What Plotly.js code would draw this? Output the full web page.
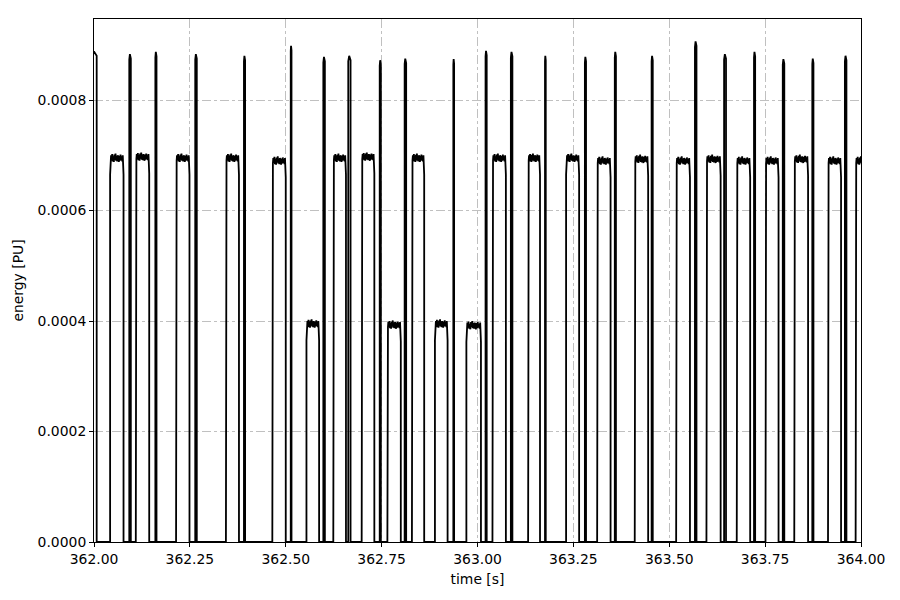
<!DOCTYPE html>
<html>
<head>
<meta charset="utf-8">
<script src="https://cdn.plot.ly/plotly-3.0.1.min.js"></script>
<style>html,body{margin:0;padding:0;background:#fff}#chart{width:900px;height:600px}</style>
</head>
<body>
<div id="chart"></div>
<script>
// Narrow tall spikes: start time [s], end time [s], peak energy [PU]
const spikeStart = [361.995, 362.092, 362.160, 362.264, 362.391, 362.513, 362.598, 362.663, 362.745, 362.810, 362.937, 363.021, 363.087, 363.176, 363.280, 363.358, 363.454, 363.567, 363.643, 363.721, 363.796, 363.873, 363.958];
const spikeEnd   = [362.007, 362.096, 362.163, 362.268, 362.394, 362.515, 362.602, 362.669, 362.748, 362.814, 362.939, 363.024, 363.091, 363.178, 363.283, 363.361, 363.457, 363.571, 363.648, 363.724, 363.800, 363.876, 363.962];
const spikePeak  = [0.000888, 0.000883, 0.000887, 0.000883, 0.000880, 0.000898, 0.000878, 0.000880, 0.000872, 0.000875, 0.000874, 0.000889, 0.000887, 0.000880, 0.000878, 0.000887, 0.000880, 0.000906, 0.000883, 0.000887, 0.000874, 0.000875, 0.000880];

// Wide plateau pulses: start time [s], end time [s], plateau energy [PU]
const pulseStart = [362.042, 362.109, 362.214, 362.344, 362.465, 362.554, 362.624, 362.698, 362.765, 362.829, 362.889, 362.971, 363.039, 363.132, 363.231, 363.312, 363.410, 363.518, 363.597, 363.676, 363.751, 363.826, 363.914, 363.986];
const pulseEnd   = [362.077, 362.144, 362.249, 362.378, 362.500, 362.587, 362.657, 362.731, 362.800, 362.861, 362.922, 363.009, 363.074, 363.163, 363.265, 363.347, 363.445, 363.554, 363.634, 363.711, 363.785, 363.862, 363.948, 364.020];
const pulseLevel = [0.000695, 0.000697, 0.000695, 0.000695, 0.000690, 0.000395, 0.000695, 0.000697, 0.000393, 0.000695, 0.000395, 0.000392, 0.000695, 0.000695, 0.000695, 0.000690, 0.000693, 0.000690, 0.000693, 0.000690, 0.000690, 0.000693, 0.000690, 0.000690];

// Ripple on plateau tops (PU x 1e-6)
const plateauNoise = [5, -4, 7, -6, 3, -7, 6, -3, 8, -5, 4, -6, 5, -2, -7, 4, -5, 6, -4, 3, -6, 5];

// Axis ticks
const xTicks = [362.00, 362.25, 362.50, 362.75, 363.00, 363.25, 363.50, 363.75, 364.00];
const yTicks = [0, 0.0002, 0.0004, 0.0006, 0.0008];

// Build the signal trace from the pulse tables
const events = [];
spikeStart.forEach((s, i) => events.push({kind: 's', t0: s, t1: spikeEnd[i], v: spikePeak[i]}));
pulseStart.forEach((s, i) => events.push({kind: 'p', t0: s, t1: pulseEnd[i], v: pulseLevel[i]}));
events.sort((a, b) => a.t0 - b.t0);

const xs = [], ys = [];
events.forEach(e => {
  const w = e.t1 - e.t0;
  if (e.kind === 's') {
    xs.push(e.t0, e.t0, e.t0 + w * 0.4, e.t1, e.t1);
    ys.push(0, e.v - 0.00001, e.v, e.v - 0.000008, 0);
  } else {
    xs.push(e.t0, e.t0, e.t0 + 0.0015);
    ys.push(0, e.v - 0.00003, e.v - 0.000004);
    const n = plateauNoise.length;
    const a = e.t0 + 0.0025, b = e.t1 - 0.002;
    for (let k = 0; k < n; k++) {
      xs.push(a + (b - a) * k / (n - 1));
      ys.push(e.v + plateauNoise[k] * 1e-6);
    }
    xs.push(e.t1 - 0.0008, e.t1, e.t1);
    ys.push(e.v - 0.00001, e.v - 0.00003, 0);
  }
});

const trace = {
  x: xs, y: ys, type: 'scatter', mode: 'lines',
  line: {color: '#000000', width: 1.8},
  hoverinfo: 'skip', showlegend: false
};

const mkFont = () => ({family: 'DejaVu Sans, sans-serif', size: 13.9, color: '#000000'});
const layout = {
  width: 900, height: 600,
  margin: {l: 94, r: 39, t: 19, b: 58, pad: 0},
  paper_bgcolor: '#fff', plot_bgcolor: '#fff',
  font: mkFont(),
  showlegend: false,
  xaxis: {
    range: [362, 364], tickvals: xTicks, tickformat: '.2f',
    showline: true, mirror: true, linecolor: '#000', linewidth: 1,
    ticks: 'outside', ticklen: 4, tickwidth: 1, tickcolor: '#000',
    showgrid: true, gridcolor: '#b0b0b0', gridwidth: 0.8, griddash: 'dashdot',
    zeroline: false, tickfont: mkFont(),
    title: {text: 'time [s]', font: mkFont(), standoff: 8}
  },
  yaxis: {
    range: [0, 0.0009466], tickvals: yTicks, tickformat: '.4f',
    showline: true, mirror: true, linecolor: '#000', linewidth: 1,
    ticks: 'outside', ticklen: 4, tickwidth: 1, tickcolor: '#000',
    showgrid: true, gridcolor: '#b0b0b0', gridwidth: 0.8, griddash: 'dashdot',
    zeroline: false, tickfont: mkFont(),
    title: {text: 'energy [PU]', font: mkFont(), standoff: 10}
  }
};

Plotly.newPlot('chart', [trace], layout, {staticPlot: true, displayModeBar: false});
</script>
</body>
</html>
